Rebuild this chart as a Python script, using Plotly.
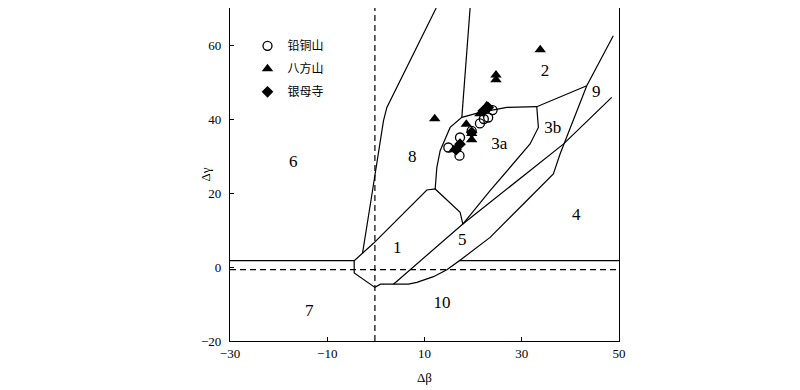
import plotly.graph_objects as go

# ---- sample data (Δβ, Δγ) ----
qts_x = [24.0, 23.1, 22.2, 21.4, 19.7, 17.3, 14.9, 17.2]
qts_y = [42.4, 40.4, 40.0, 38.8, 36.8, 35.0, 32.3, 30.1]
bfs_x = [22.8, 21.4, 18.6, 19.7, 19.7, 16.0, 12.1, 24.7, 24.7, 33.8]
bfs_y = [43.6, 41.4, 38.6, 36.1, 34.4, 31.7, 40.1, 51.9, 50.6, 58.7]
yms_x = [23.1, 22.1, 19.7, 17.3, 16.5]
yms_y = [43.1, 42.2, 36.4, 33.2, 31.7]

# ---- field boundaries (Δβ, Δγ) ----
bA_x = [-30, -4.46, -4.46, -0.2, 0.95, 6.7, 8.43, 11.84, 14.6, 17.18, 50]
bA_y = [1.7, 1.7, -1.62, -5.51, -4.65, -4.65, -4.16, -2.62, -0.73, 1.7, 1.7]
bB_x = [17.18, 23.49, 30.34, 36.5, 37.88, 40.61, 43.37, 48.83]
bB_y = [1.7, 8.0, 17.03, 25.14, 30.54, 39.54, 49.0, 62.5]
bC_x = [3.62, 17.88, 38.56, 48.5]
bC_y = [-4.65, 11.62, 33.2, 45.84]
bD_x = [-4.46, -0.49, 10.48, 12.19, 17.33, 17.88]
bD_y = [1.7, 6.4, 20.81, 21.08, 14.76, 11.62]
bE_x = [12.4, 2.26, 1.57, 0.74, -0.35, -1.02, -2.75]
bE_y = [70, 43.14, 39.54, 32.3, 23.3, 17.9, 3.7]
bF_x = [19.38, 17.68]
bF_y = [70, 40.43]
bG_x = [12.19, 12.54, 13.22, 15.27, 17.68, 21.44, 26.93, 33.09, 43.37]
bG_y = [21.08, 26.92, 31.43, 37.73, 40.43, 41.78, 43.14, 43.32, 49.0]
bH_x = [33.09, 33.42, 31.71, 23.49, 17.88]
bH_y = [43.32, 37.73, 33.24, 20.62, 11.62]

dash_v_x = [-0.2, -0.2]
dash_v_y = [-20, 70]
dash_h_x = [-30, 50]
dash_h_y = [-0.73, -0.73]

field_labels = ["6", "8", "2", "3a", "3b", "9", "1", "5", "4", "7", "10"]
field_x = [-17.0, 7.5, 34.8, 25.4, 36.4, 45.3, 4.4, 17.75, 41.2, -13.7, 13.6]
field_y = [28.2, 29.5, 52.8, 33.1, 37.4, 47.1, 4.9, 7.1, 13.9, -12.1, -9.9]

x_ticks = [-30, -10, 10, 30, 50]
y_ticks = [-20, 0, 20, 40, 60]

fig = go.Figure()

line_style = dict(color="black", width=1.2)
for bx, by in [(bA_x, bA_y), (bB_x, bB_y), (bC_x, bC_y), (bD_x, bD_y),
               (bE_x, bE_y), (bF_x, bF_y), (bG_x, bG_y), (bH_x, bH_y)]:
    fig.add_trace(go.Scatter(x=bx, y=by, mode="lines", line=line_style,
                             showlegend=False, hoverinfo="skip"))
for bx, by in [(dash_v_x, dash_v_y), (dash_h_x, dash_h_y)]:
    fig.add_trace(go.Scatter(x=bx, y=by, mode="lines",
                             line=dict(color="black", width=1.2, dash="6px,4px"),
                             showlegend=False, hoverinfo="skip"))

fig.add_trace(go.Scatter(x=field_x, y=field_y, mode="text", text=field_labels,
                         textfont=dict(family="Liberation Serif", size=17, color="black"),
                         showlegend=False, hoverinfo="skip"))

fig.add_trace(go.Scatter(x=qts_x, y=qts_y, mode="markers", name="铅铜山", legendgroup="a",
                         marker=dict(symbol="circle-open", size=9, color="black",
                                     line=dict(width=1.3, color="black"))))
fig.add_trace(go.Scatter(x=bfs_x, y=bfs_y, mode="markers", name="八方山", legendgroup="b",
                         marker=dict(symbol="triangle-up", size=10, color="black")))
fig.add_trace(go.Scatter(x=yms_x, y=yms_y, mode="markers", name="银母寺", legendgroup="c",
                         marker=dict(symbol="diamond", size=9, color="black")))

axis_common = dict(showgrid=False, zeroline=False, showline=True, linecolor="black",
                   linewidth=1.3, mirror=True, ticks="inside", ticklen=4,
                   tickcolor="black", tickwidth=1.2,
                   tickfont=dict(family="Liberation Serif", size=13, color="black"))

fig.update_xaxes(range=[-30, 50], tickvals=x_ticks,
                 ticktext=[str(v).replace("-", "\u2212") for v in x_ticks],
                 title=dict(text="Δβ", font=dict(family="Liberation Serif", size=13, color="black"),
                            standoff=13),
                 **axis_common)
fig.update_yaxes(range=[-20, 70], tickvals=y_ticks,
                 ticktext=[str(v).replace("-", "\u2212") for v in y_ticks],
                 ticklabelstandoff=5,
                 **axis_common)

fig.add_annotation(text="Δγ", xref="paper", yref="paper", x=-0.064, y=0.5,
                   textangle=-90, showarrow=False, xanchor="center", yanchor="middle",
                   font=dict(family="Liberation Serif", size=13, color="black"))

fig.update_layout(
    width=800, height=390,
    margin=dict(l=222, r=189, t=0, b=57),
    plot_bgcolor="white", paper_bgcolor="white",
    legend=dict(x=0.045, y=0.93, xanchor="left", yanchor="top",
                bgcolor="rgba(0,0,0,0)", tracegroupgap=4,
                font=dict(family="Noto Sans CJK SC", size=12, color="black"),
                itemwidth=30),
)

fig.write_html("out.html")
